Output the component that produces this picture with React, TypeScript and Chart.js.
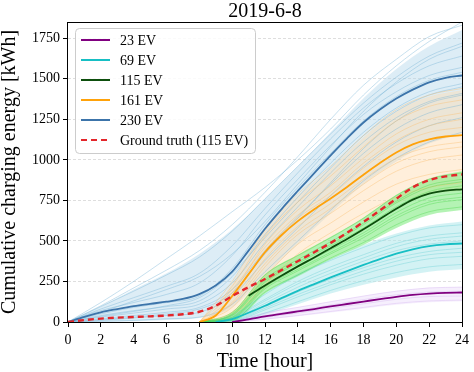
import React, { useEffect, useRef } from "react";
import { Chart, registerables } from "chart.js";

Chart.register(...registerables);

const FONT = "'Liberation Serif', 'Times New Roman', Times, serif";

// ---------- text ----------
const chartTitle = "2019-6-8";
const xTitle = "Time [hour]";
const yTitle = "Cumulative charging energy [kWh]";
const legendLabels = ["23 EV", "69 EV", "115 EV", "161 EV", "230 EV", "Ground truth (115 EV)"];

// ---------- ticks ----------
const xTicks = [0, 2, 4, 6, 8, 10, 12, 14, 16, 18, 20, 22, 24];
const yTicks = [0, 250, 500, 750, 1000, 1250, 1500, 1750];
const yMax = 1850;

// ---------- time grids ----------
const hours = [0, 1, 2, 3, 4, 5, 6, 7, 8, 9, 10, 11, 12, 13, 14, 15, 16, 17, 18, 19, 20, 21, 22, 23, 24];
const evenHours = [0, 2, 4, 6, 8, 10, 12, 14, 16, 18, 20, 22, 24];

// ---------- mean curves (hourly) ----------
const mean23 = [null, null, null, null, null, null, null, null, null, null, 0, 16, 34, 50, 65, 80, 96, 111, 126, 141, 155, 167, 175, 180, 182];
const mean69 = [null, null, null, null, null, null, null, null, null, 0, 18, 57, 100, 147, 192, 234, 275, 314, 352, 388, 421, 448, 468, 479, 484];
const mean115 = [null, null, null, null, null, null, null, null, null, null, null, 162, 225, 285, 343, 398, 455, 512, 572, 635, 698, 755, 792, 810, 818];
const mean161 = [null, null, null, null, null, null, null, null, 0, 40, 160, 295, 430, 535, 622, 695, 762, 833, 908, 980, 1045, 1095, 1126, 1144, 1152];
const mean230 = [0, 32, 60, 80, 98, 112, 125, 142, 172, 225, 310, 440, 575, 695, 808, 918, 1028, 1133, 1230, 1310, 1378, 1433, 1478, 1506, 1520];
const truth115 = [0, 12, 21, 27, 31, 35, 40, 48, 63, 100, 160, 215, 265, 320, 375, 430, 488, 550, 617, 688, 760, 830, 875, 898, 910];

// ---------- sample scenarios (every 2 hours) ----------
const samples230 = [
  [0, 120, 250, 390, 530, 680, 830, 1000, 1190, 1400, 1580, 1730, 1850],
  [0, 100, 210, 320, 440, 600, 800, 1020, 1250, 1460, 1620, 1760, 1830],
  [0, 95, 190, 290, 400, 560, 760, 960, 1160, 1350, 1510, 1640, 1720],
  [0, 80, 150, 220, 300, 470, 700, 920, 1130, 1320, 1470, 1580, 1640],
  [0, 60, 130, 200, 280, 420, 620, 850, 1080, 1300, 1480, 1620, 1700],
  [0, 70, 120, 170, 240, 410, 660, 880, 1090, 1280, 1420, 1520, 1570],
  [0, 50, 90, 120, 160, 330, 600, 830, 1040, 1240, 1390, 1490, 1540],
  [0, 40, 70, 95, 130, 280, 540, 770, 980, 1170, 1320, 1420, 1470],
  [0, 35, 65, 100, 150, 300, 520, 740, 950, 1150, 1300, 1400, 1450],
  [0, 30, 55, 80, 110, 240, 490, 710, 920, 1110, 1260, 1360, 1410],
  [0, 20, 40, 60, 90, 200, 440, 650, 850, 1040, 1190, 1290, 1340],
  [0, 15, 30, 50, 80, 180, 420, 640, 860, 1070, 1240, 1350, 1400],
  [0, 10, 25, 40, 60, 160, 380, 580, 780, 960, 1110, 1210, 1260],
  [0, 5, 10, 20, 30, 110, 310, 500, 690, 870, 1010, 1110, 1170],
];
const samples161 = [
  [null, null, null, null, 0, 250, 570, 790, 960, 1150, 1310, 1400, 1440],
  [null, null, null, null, 0, 220, 530, 740, 900, 1080, 1240, 1330, 1370],
  [null, null, null, null, 0, 200, 460, 660, 800, 980, 1120, 1210, 1250],
  [null, null, null, null, 0, 180, 480, 690, 840, 1010, 1160, 1250, 1290],
  [null, null, null, null, 0, 150, 440, 640, 780, 950, 1090, 1170, 1200],
  [null, null, null, null, 0, 120, 390, 590, 730, 880, 1010, 1080, 1110],
  [null, null, null, null, 0, 110, 360, 560, 700, 850, 980, 1050, 1080],
  [null, null, null, null, 0, 90, 340, 540, 670, 810, 930, 1000, 1030],
  [null, null, null, null, 0, 60, 280, 480, 610, 740, 850, 910, 940],
  [null, null, null, null, 0, 40, 230, 420, 550, 670, 770, 830, 860],
];
const samples115 = [
  [null, null, null, null, 0, 60, 290, 410, 520, 640, 780, 880, 920],
  [null, null, null, null, 0, 50, 265, 385, 495, 610, 745, 845, 880],
  [null, null, null, null, 0, 45, 255, 370, 480, 600, 735, 830, 865],
  [null, null, null, null, 0, 40, 245, 360, 470, 580, 710, 805, 840],
  [null, null, null, null, 0, 30, 225, 340, 445, 550, 675, 765, 795],
  [null, null, null, null, 0, 25, 215, 325, 430, 535, 655, 740, 770],
  [null, null, null, null, 0, 20, 205, 315, 420, 520, 640, 725, 755],
  [null, null, null, null, 0, 10, 185, 290, 395, 490, 600, 680, 710],
];
const samples69 = [
  [null, null, null, null, 0, 40, 170, 290, 380, 460, 530, 580, 600],
  [null, null, null, null, 0, 30, 140, 250, 340, 415, 485, 530, 550],
  [null, null, null, null, 0, 25, 130, 235, 320, 395, 465, 510, 530],
  [null, null, null, null, 0, 20, 115, 215, 300, 375, 440, 480, 500],
  [null, null, null, null, 0, 12, 95, 185, 265, 335, 395, 435, 455],
  [null, null, null, null, 0, 8, 85, 170, 245, 315, 375, 415, 430],
  [null, null, null, null, 0, 5, 75, 155, 230, 295, 350, 390, 405],
  [null, null, null, null, 0, 0, 55, 125, 195, 255, 305, 340, 355],
];
const samples23 = [
  [null, null, null, null, null, 0, 55, 90, 125, 160, 190, 210, 215],
  [null, null, null, null, null, 0, 40, 72, 105, 138, 168, 185, 190],
  [null, null, null, null, null, 0, 28, 55, 85, 112, 140, 157, 160],
  [null, null, null, null, null, 0, 18, 40, 65, 90, 115, 130, 135],
];

// ---------- scenario envelopes (every 2 hours) ----------
const band230Upper = [0, 95, 200, 300, 420, 570, 760, 960, 1170, 1380, 1560, 1700, 1800];
const band230Lower = [0, 0, 5, 12, 25, 90, 290, 480, 670, 850, 990, 1100, 1160];
const band161Upper = [0, 0, 0, 0, 0, 240, 570, 780, 950, 1140, 1300, 1390, 1430];
const band161Lower = [0, 0, 0, 0, 0, 20, 200, 390, 520, 630, 730, 790, 810];
const band115Upper = [0, 0, 0, 0, 0, 60, 295, 415, 525, 645, 785, 885, 930];
const band115Lower = [0, 0, 0, 0, 0, 0, 175, 280, 385, 475, 580, 660, 690];
const band69Upper = [0, 0, 0, 0, 0, 45, 180, 300, 390, 475, 545, 595, 620];
const band69Lower = [0, 0, 0, 0, 0, 0, 45, 110, 175, 230, 275, 310, 325];
const band23Upper = [0, 0, 0, 0, 0, 5, 58, 92, 128, 162, 192, 212, 218];
const band23Lower = [0, 0, 0, 0, 0, 0, 14, 35, 58, 82, 106, 122, 128];

const toXY = (xs: number[], ys: (number | null)[]) => xs.map((x, i) => ({ x, y: ys[i] }));

const decorPlugin = {
  id: "decor",
  afterDatasetsDraw(chart: any) {
    const { ctx, chartArea: a } = chart;
    ctx.save();
    // frame
    ctx.setLineDash([]);
    ctx.strokeStyle = "#000";
    ctx.lineWidth = 1;
    ctx.strokeRect(Math.round(a.left) - 0.5, Math.round(a.top) + 0.5, Math.round(a.right - a.left) + 1, Math.round(a.bottom - a.top));

    // legend
    const items = chart.data.datasets
      .filter((d: any) => d.legendIndex !== undefined)
      .sort((p: any, q: any) => p.legendIndex - q.legendIndex);
    const x0 = Math.round(a.left) + 7.5;
    const y0 = Math.round(a.top) + 6.5;
    const w = 180;
    const h = 125;
    ctx.beginPath();
    if (ctx.roundRect) ctx.roundRect(x0, y0, w, h, 4);
    else ctx.rect(x0, y0, w, h);
    ctx.fillStyle = "rgba(255,255,255,0.85)";
    ctx.fill();
    ctx.strokeStyle = "#cccccc";
    ctx.lineWidth = 1;
    ctx.stroke();
    ctx.font = `14px ${FONT}`;
    ctx.textBaseline = "middle";
    ctx.textAlign = "left";
    items.forEach((d: any, i: number) => {
      const cy = y0 + 11.5 + i * 20;
      ctx.beginPath();
      ctx.setLineDash(d.borderDash || []);
      ctx.strokeStyle = d.borderColor;
      ctx.lineWidth = 2;
      ctx.moveTo(x0 + 5.5, cy);
      ctx.lineTo(x0 + 34.5, cy);
      ctx.stroke();
      ctx.setLineDash([]);
      ctx.fillStyle = "#000";
      ctx.fillText(d.label, x0 + 44.5, cy + 1);
    });

    // title
    ctx.font = `20px ${FONT}`;
    ctx.textAlign = "center";
    ctx.textBaseline = "middle";
    ctx.fillStyle = "#000";
    ctx.fillText(chartTitle, (a.left + a.right) / 2, 12);
    ctx.restore();
  },
};

export default function App() {
  const ref = useRef<HTMLCanvasElement>(null);

  useEffect(() => {
    const canvas = ref.current;
    if (!canvas) return;

    const datasets: any[] = [];
    const line = (label: string, xs: number[], ys: (number | null)[], color: string, width: number, order: number, extra: any = {}) => ({
      label,
      data: toXY(xs, ys),
      borderColor: color,
      backgroundColor: color,
      borderWidth: width,
      pointRadius: 0,
      fill: false,
      cubicInterpolationMode: "monotone",
      order,
      ...extra,
    });

    // ground truth and means (drawn on top)
    datasets.push(line(legendLabels[5], hours, truth115, "#e3262b", 2.4, 0, { borderDash: [6, 4], legendIndex: 5 }));
    datasets.push(line(legendLabels[0], hours, mean23, "#800080", 1.8, 1, { legendIndex: 0 }));
    datasets.push(line(legendLabels[1], hours, mean69, "#17bfc4", 1.8, 1, { legendIndex: 1 }));
    datasets.push(line(legendLabels[2], hours, mean115, "#0d4f0d", 1.8, 1, { legendIndex: 2 }));
    datasets.push(line(legendLabels[3], hours, mean161, "#ffa20a", 1.8, 1, { legendIndex: 3 }));
    datasets.push(line(legendLabels[4], hours, mean230, "#3c74aa", 1.8, 1, { legendIndex: 4 }));

    // sample lines
    const groups = [
      { s: samples23, c: "rgba(205,165,235,0.45)", o: 11 },
      { s: samples115, c: "rgba(70,215,70,0.55)", o: 12 },
      { s: samples69, c: "rgba(110,210,215,0.6)", o: 13 },
      { s: samples161, c: "rgba(250,190,110,0.6)", o: 14 },
      { s: samples230, c: "rgba(120,180,215,0.6)", o: 15 },
    ];
    groups.forEach((g) => {
      g.s.forEach((arr, i) => datasets.push(line("s" + g.o + "_" + i, evenHours, arr, g.c, 0.7, g.o)));
    });

    // envelopes
    const bands = [
      { u: band23Upper, l: band23Lower, c: "rgba(230,210,248,0.35)", o: 16 },
      { u: band115Upper, l: band115Lower, c: "rgba(130,235,130,0.6)", o: 17 },
      { u: band69Upper, l: band69Lower, c: "rgba(175,232,235,0.55)", o: 18 },
      { u: band161Upper, l: band161Lower, c: "rgba(255,220,175,0.45)", o: 19 },
      { u: band230Upper, l: band230Lower, c: "rgba(180,215,235,0.45)", o: 20 },
    ];
    bands.forEach((b, i) => {
      datasets.push(line("bu" + i, evenHours, b.u, "rgba(0,0,0,0)", 0, b.o, { fill: "+1", backgroundColor: b.c }));
      datasets.push(line("bl" + i, evenHours, b.l, "rgba(0,0,0,0)", 0, b.o));
    });

    const chart = new Chart(canvas, {
      type: "line",
      data: { datasets },
      options: {
        responsive: false,
        animation: false,
        devicePixelRatio: 1,
        layout: { padding: { left: 0, top: 22, right: 8, bottom: 0 } },
        plugins: {
          legend: { display: false },
          tooltip: { enabled: false },
          title: { display: false },
        },
        elements: { point: { radius: 0 } },
        scales: {
          x: {
            type: "linear",
            min: 0,
            max: 24,
            afterBuildTicks: (s: any) => {
              s.ticks = xTicks.map((v) => ({ value: v }));
            },
            afterFit: (s: any) => {
              s.height = 50;
            },
            ticks: { autoSkip: false, maxRotation: 0, padding: 5, color: "#000", font: { family: FONT, size: 14 }, callback: (v: any) => String(v) },
            grid: { drawOnChartArea: false, drawTicks: true, tickLength: 5, tickColor: "#000", tickWidth: 1 },
            border: { display: false },
            title: { display: true, text: xTitle, color: "#000", font: { family: FONT, size: 20, lineHeight: 1 }, padding: { top: 0, bottom: 0 } },
          },
          y: {
            type: "linear",
            min: 0,
            max: yMax,
            afterBuildTicks: (s: any) => {
              s.ticks = yTicks.map((v) => ({ value: v }));
            },
            afterFit: (s: any) => {
              s.width = 68;
            },
            ticks: { autoSkip: false, padding: 3, color: "#000", font: { family: FONT, size: 14 }, callback: (v: any) => String(v) },
            grid: { color: "rgba(0,0,0,0.13)", lineWidth: 1, drawTicks: true, tickLength: 5, tickColor: "#000", tickWidth: 1 },
            border: { display: false, dash: [3, 2] },
            title: { display: true, text: yTitle, color: "#000", font: { family: FONT, size: 20, lineHeight: 1 }, padding: { top: 0, bottom: 0 } },
          },
        },
      } as any,
      plugins: [decorPlugin],
    });

    return () => chart.destroy();
  }, []);

  return (
    <div style={{ position: "absolute", left: 0, top: 0, width: 474, height: 372 }}>
      <canvas ref={ref} width={474} height={372} style={{ display: "block", width: 474, height: 372 }} />
    </div>
  );
}
